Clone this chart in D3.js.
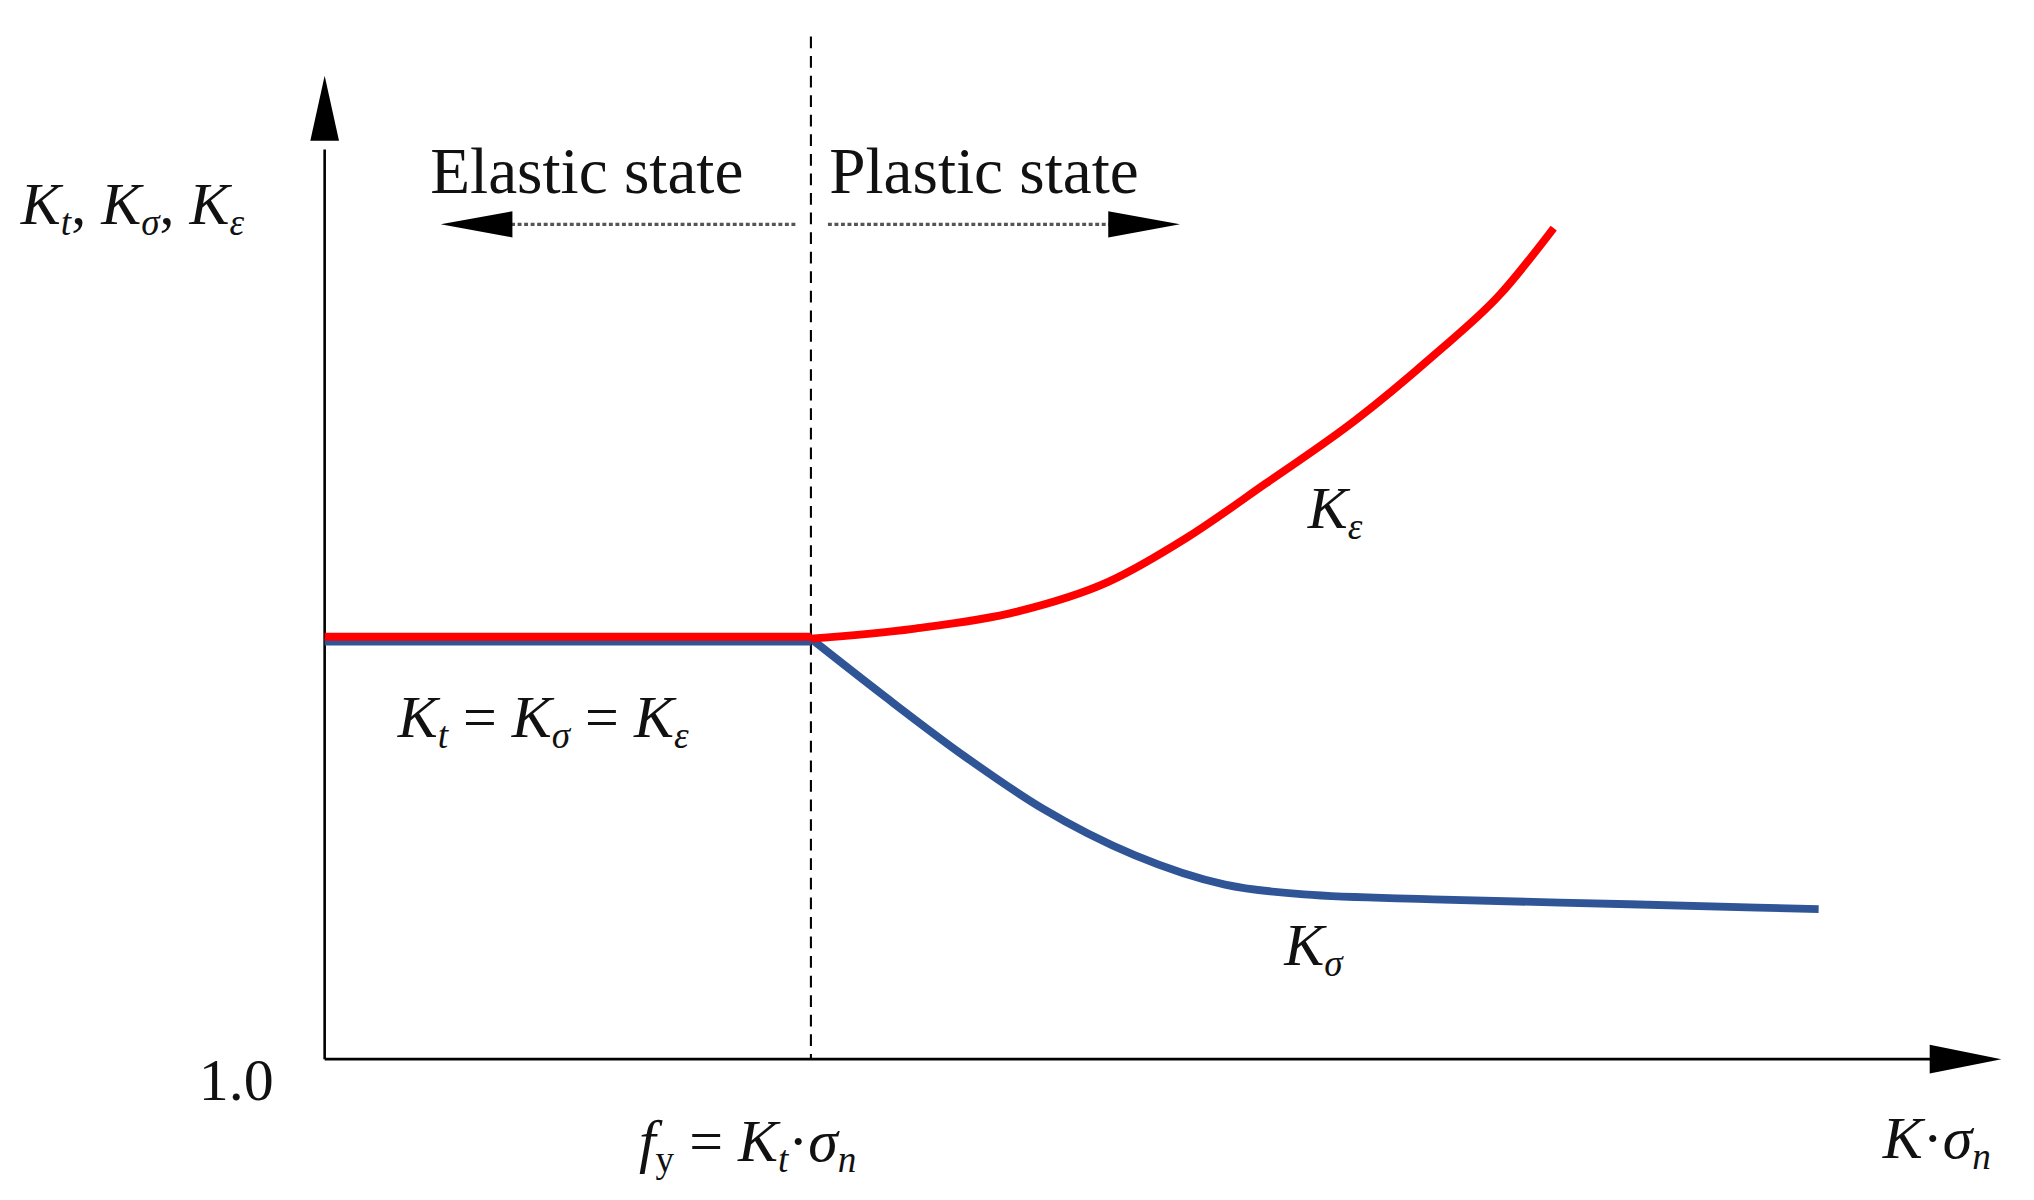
<!DOCTYPE html>
<html><head><meta charset="utf-8">
<script src="https://cdn.jsdelivr.net/npm/d3@7"></script>
<style>body{margin:0;background:#fff}svg{display:block}text{font-family:"Liberation Serif","DejaVu Serif",serif;fill:#111}</style>
</head><body><svg id="c"></svg>
<script>
// curve values in chart units: x = load (0..100 along axis), y = concentration factor (1.0 at axis)
const flatX = [0, 29];
const flatY = [2.71, 2.71];
const kEpsX = [29.0, 35.1, 41.3, 46.7, 51.4, 56.1, 61.5, 66.1, 70.1, 73.3];
const kEpsY = [2.71, 2.75, 2.82, 2.94, 3.12, 3.34, 3.60, 3.86, 4.11, 4.38];
const kSigX = [29.0, 33.5, 38.2, 42.8, 48.3, 53.7, 58.4, 66.1, 77.8, 89.1];
const kSigY = [2.71, 2.47, 2.23, 2.02, 1.83, 1.71, 1.67, 1.65, 1.63, 1.61];
const yieldX = 29;

const svg = d3.select("#c").attr("width", 2034).attr("height", 1200)
  .attr("viewBox", "0 0 1560 920").attr("preserveAspectRatio", "none");
const x = d3.scaleLinear().domain([0, 100]).range([249, 1535]);
const y = d3.scaleLinear().domain([1, 5]).range([812, 58]);
const line = d3.line().x(d => x(d[0])).y(d => y(d[1])).curve(d3.curveMonotoneX);
const zip = (a, b) => a.map((v, i) => [v, b[i]]);

// axes
svg.append("line").attr("x1", x(0)).attr("x2", x(96)).attr("y1", y(1)).attr("y2", y(1)).attr("stroke", "#000").attr("stroke-width", 2);
svg.append("line").attr("x1", x(0)).attr("x2", x(0)).attr("y1", y(1)).attr("y2", y(4.7)).attr("stroke", "#000").attr("stroke-width", 2);
svg.append("path").attr("d", `M${x(100)},${y(1)} L${x(100) - 55},${y(1) - 11} L${x(100) - 55},${y(1) + 11}Z`);
svg.append("path").attr("d", `M${x(0)},${y(5)} L${x(0) - 11},${y(5) + 50} L${x(0) + 11},${y(5) + 50}Z`);

// yield line
svg.append("line").attr("x1", x(yieldX)).attr("x2", x(yieldX)).attr("y1", 28).attr("y2", y(1))
  .attr("stroke", "#000").attr("stroke-width", 1.6).attr("stroke-dasharray", "9,6");

// state arrows
const ay = 172;
svg.append("line").attr("x1", 610).attr("x2", 390).attr("y1", ay).attr("y2", ay).attr("stroke", "#555").attr("stroke-width", 2.5).attr("stroke-dasharray", "3,2");
svg.append("path").attr("d", `M338,${ay} L393,${ay - 10} L393,${ay + 10}Z`);
svg.append("line").attr("x1", 635).attr("x2", 852).attr("y1", ay).attr("y2", ay).attr("stroke", "#555").attr("stroke-width", 2.5).attr("stroke-dasharray", "3,2");
svg.append("path").attr("d", `M905,${ay} L850,${ay - 10} L850,${ay + 10}Z`);

// curves
svg.append("path").attr("d", line(zip(flatX, flatY.map(v => v - 0.012)))).attr("fill", "none").attr("stroke", "#2f5597").attr("stroke-width", 6);
svg.append("path").attr("d", line(zip(kSigX, kSigY))).attr("fill", "none").attr("stroke", "#2f5597").attr("stroke-width", 6);
svg.append("path").attr("d", line(zip(flatX, flatY.map(v => v + 0.008)))).attr("fill", "none").attr("stroke", "#ff0000").attr("stroke-width", 6);
svg.append("path").attr("d", line(zip(kEpsX, kEpsY))).attr("fill", "none").attr("stroke", "#ff0000").attr("stroke-width", 6);

// labels
function label(px, py, parts, size, anchor) {
  const t = svg.append("text").attr("x", px).attr("y", py).attr("font-size", size).attr("text-anchor", anchor || "start");
  parts.forEach(([s, opt]) => {
    const ts = t.append("tspan").text(s);
    if (opt && opt.i) ts.attr("font-style", "italic");
    if (opt && opt.sub) ts.attr("font-size", size * 0.62).attr("dy", size * 0.18);
    if (opt && opt.up) ts.attr("dy", -size * 0.18);
  });
}
label(330, 148, [["Elastic state"]], 50);
label(636, 148, [["Plastic state"]], 50);
label(16, 172, [["K", {i: 1}], ["t", {i: 1, sub: 1}], [", ", {up: 1}], ["K", {i: 1}], ["σ", {i: 1, sub: 1}], [", ", {up: 1}], ["K", {i: 1}], ["ε", {i: 1, sub: 1}]], 46);
label(305, 565, [["K", {i: 1}], ["t", {i: 1, sub: 1}], [" = ", {up: 1}], ["K", {i: 1}], ["σ", {i: 1, sub: 1}], [" = ", {up: 1}], ["K", {i: 1}], ["ε", {i: 1, sub: 1}]], 46);
label(1003, 405, [["K", {i: 1}], ["ε", {i: 1, sub: 1}]], 46);
label(985, 740, [["K", {i: 1}], ["σ", {i: 1, sub: 1}]], 46);
label(210, 843, [["1.0"]], 46, "end");
label(490, 890, [["f", {i: 1}], ["y", {sub: 1}], [" = ", {up: 1}], ["K", {i: 1}], ["t", {i: 1, sub: 1}], ["·", {up: 1}], ["σ", {i: 1}], ["n", {i: 1, sub: 1}]], 46);
label(1527, 888, [["K", {i: 1}], ["·"], ["σ", {i: 1}], ["n", {i: 1, sub: 1}]], 46, "end");
</script></body></html>
